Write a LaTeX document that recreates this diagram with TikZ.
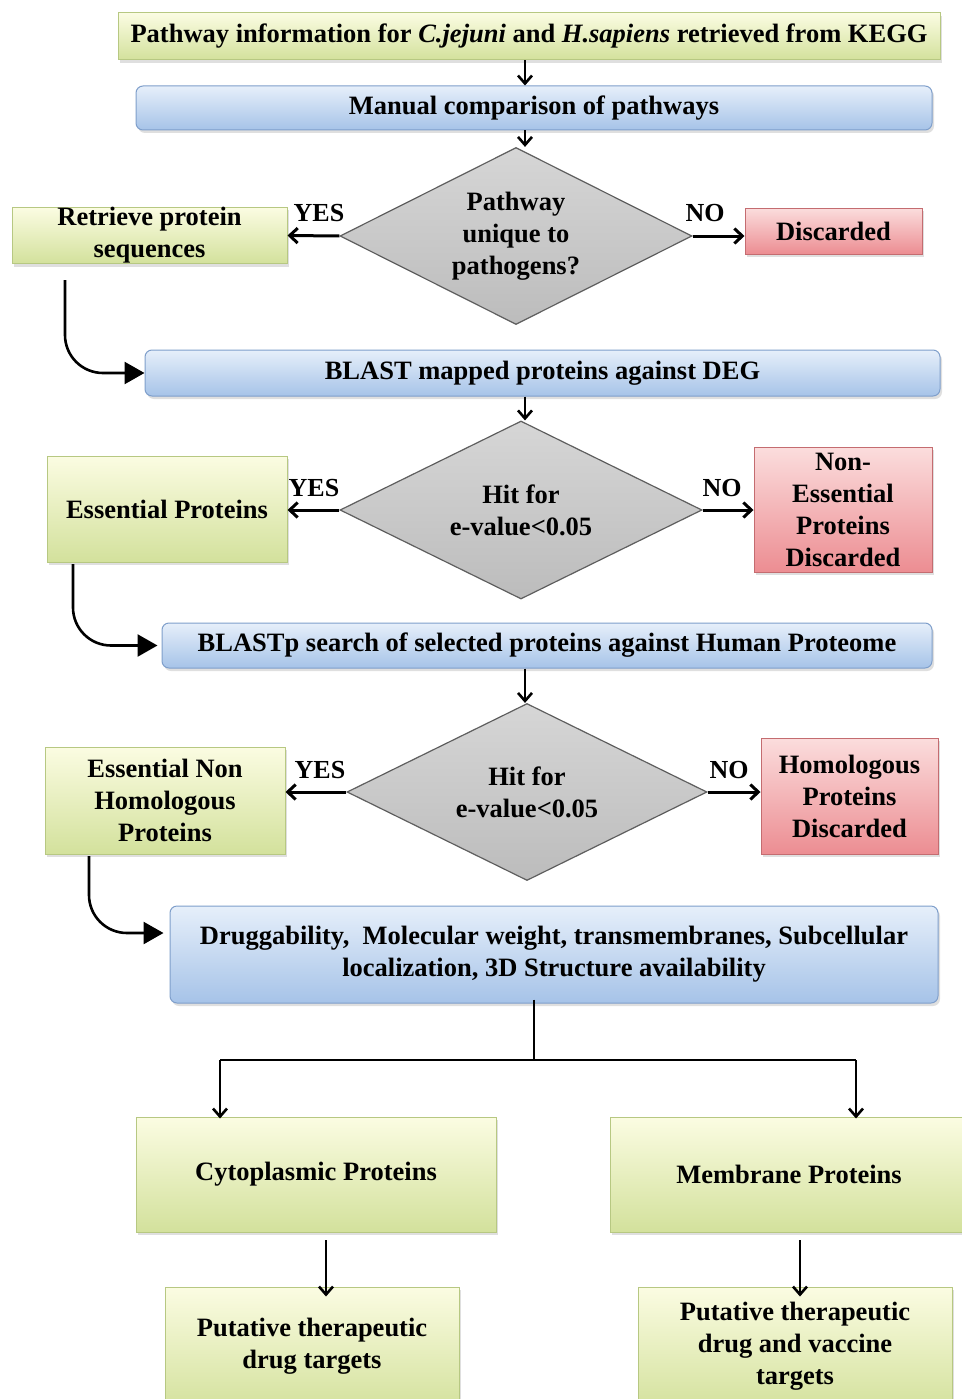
\documentclass[tikz,border=0pt]{standalone}
\usepackage{fontspec}
\setmainfont{Liberation Serif}
\usetikzlibrary{shapes.geometric,arrows.meta,shadows}
\definecolor{gtop}{HTML}{FBFCE2}
\definecolor{gbot}{HTML}{D3E19C}
\definecolor{gbrd}{HTML}{B7C882}
\definecolor{btop}{HTML}{E6EFFA}
\definecolor{bbot}{HTML}{A6C3E8}
\definecolor{bbrd}{HTML}{7F9FCB}
\definecolor{rtop}{HTML}{FBDDDD}
\definecolor{rbot}{HTML}{EC8D92}
\definecolor{rbrd}{HTML}{C46C70}
\definecolor{dtop}{HTML}{D6D6D6}
\definecolor{dmid}{HTML}{E6E6E6}
\definecolor{dbot}{HTML}{BCBCBC}
\definecolor{dbrd}{HTML}{5E5E5E}
\tikzset{
  txt/.style={font=\fontsize{26.5}{32}\selectfont\bfseries, align=center, text=black},
  base/.style={txt, rectangle, inner sep=0pt, line width=1pt,
     drop shadow={opacity=0.25, shadow xshift=2pt, shadow yshift=-3pt}},
  gbox/.style={base, draw=gbrd, top color=gtop, bottom color=gbot},
  bbox/.style={base, draw=bbrd, top color=btop, bottom color=bbot, rounded corners=7pt},
  rbox/.style={base, draw=rbrd, top color=rtop, bottom color=rbot},
  dia/.style={txt, diamond, aspect=2, inner sep=0pt, line width=1.2pt, draw=dbrd,
     top color=dtop, middle color=dmid, bottom color=dbot},
  arr/.style={line width=2.6pt, -{Straight Barb[length=8pt,width=14pt]}},
  yarr/.style={line width=3pt, -{Straight Barb[length=8pt,width=15pt]}},
  carr/.style={line width=2.6pt, rounded corners=38pt, -{Triangle[length=20pt,width=22pt]}},
  lbl/.style={font=\fontsize{26}{28}\selectfont\bfseries, inner sep=0pt},
}
\begin{document}
\begin{tikzpicture}[x=1pt,y=-1pt]
\useasboundingbox[fill=white] (0,0) rectangle (961,1399);
% nodes
\node[gbox, minimum width=822pt, minimum height=47pt] (b1) at (529,36.5)
  {Pathway information for \textit{C.jejuni} and \textit{H.sapiens} retrieved from KEGG};
\node[bbox, minimum width=796pt, minimum height=44pt] (b2) at (534,108) {Manual comparison of pathways};
\node[dia, minimum width=352pt, minimum height=177pt] (d1) at (516,236) {Pathway\\unique to\\pathogens?};
\node[gbox, minimum width=275pt, minimum height=55pt] (ret) at (149.5,235.5) {Retrieve protein\\sequences};
\node[rbox, minimum width=177pt, minimum height=46pt] (dis1) at (833.5,231) {Discarded};
\node[bbox, minimum width=795pt, minimum height=46pt] (b3) at (542.5,373) {BLAST mapped proteins against DEG};
\node[dia, minimum width=362pt, minimum height=178pt] (d2) at (521,510) {Hit for\\e-value<0.05};
\node[gbox, minimum width=240pt, minimum height=106pt] (ess) at (167,509) {Essential Proteins};
\node[rbox, minimum width=178pt, minimum height=125pt] (dis2) at (843,509.5) {Non-\\Essential\\Proteins\\Discarded};
\node[bbox, minimum width=770pt, minimum height=45pt] (b4) at (547,645.5) {BLASTp search of selected proteins against Human Proteome};
\node[dia, minimum width=360pt, minimum height=177pt] (d3) at (527,792) {Hit for\\e-value<0.05};
\node[gbox, minimum width=240pt, minimum height=107pt] (enh) at (165,800.5) {Essential Non\\Homologous\\Proteins};
\node[rbox, minimum width=177pt, minimum height=116pt] (dis3) at (849.5,796) {Homologous\\Proteins\\Discarded};
\node[bbox, minimum width=768pt, minimum height=97pt] (b5) at (554,954.5)
  {Druggability,\ \ Molecular weight, transmembranes, Subcellular\\localization, 3D Structure availability};
\node[gbox, minimum width=360pt, minimum height=115pt] (cyto) at (316,1174.5) {Cytoplasmic Proteins};
\node[gbox, minimum width=358pt, minimum height=115pt] (mem) at (789,1174.5) {Membrane Proteins};
\node[gbox, minimum width=294pt, minimum height=124pt] (put1) at (312,1349) {};
\node[txt] (put1t) at (312,1346) {Putative therapeutic\\drug targets};
\node[gbox, minimum width=314pt, minimum height=124pt] (put2) at (795,1349) {};
\node[txt] (put2t) at (795,1346) {Putative therapeutic\\drug and vaccine\\targets};
% labels
\node[lbl] (y1) at (319,213) {YES};
\node[lbl] (n1) at (705,213) {NO};
\node[lbl] (y2) at (314,488) {YES};
\node[lbl] (n2) at (722,488) {NO};
\node[lbl] (y3) at (320,770) {YES};
\node[lbl] (n3) at (729,770) {NO};
% coordinates
\coordinate (ax) at (525,0);
\coordinate (c1) at (65,280);
\coordinate (c2) at (73,564);
\coordinate (c3) at (89,856);
\coordinate (sp) at (534,1060);
\coordinate (sL) at (220,1060);
\coordinate (sR) at (856,1060);
\coordinate (a1) at (326,1240);
\coordinate (a2) at (800,1240);
% vertical arrows
\draw[arr] (b1.south -| ax) -- (b2.north -| ax);
\draw[arr] (b2.south -| ax) -- (d1.north -| ax);
\draw[arr] (b3.south -| ax) -- (d2.north -| ax);
\draw[arr] (b4.south -| ax) -- (d3.north -| ax);
% yes/no
\draw[yarr] (d1.west) -- (ret.east);
\draw[yarr] (d1.east) -- (dis1.west |- d1.east);
\draw[yarr] (d2.west) -- (ess.east |- d2.west);
\draw[yarr] (d2.east) -- (dis2.west |- d2.east);
\draw[yarr] (d3.west) -- (enh.east |- d3.west);
\draw[yarr] (d3.east) -- (dis3.west |- d3.east);
% curved arrows
\draw[carr] (c1) |- (b3.west);
\draw[carr] (c2) |- ([xshift=-4pt]b4.west);
\draw[carr] (c3) |- ([xshift=-6pt]b5.west |- 0,933);
% split
\draw[line width=2.6pt] ([yshift=4pt]b5.south -| sp) -- (sp);
\draw[line width=2.6pt] (sL) -- (sR);
\draw[arr] (sL) -- ([yshift=-2pt]cyto.north -| sL);
\draw[arr] (sR) -- ([yshift=-2pt]mem.north -| sR);
\draw[arr] (a1) -- ([yshift=-10pt]put1.north -| a1);
\draw[arr] (a2) -- ([yshift=-10pt]put2.north -| a2);
\end{tikzpicture}
\end{document}
